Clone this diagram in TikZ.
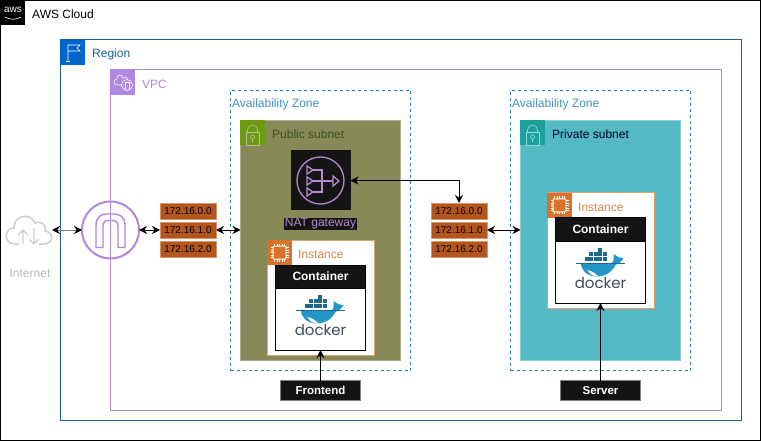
\documentclass[tikz,border=0pt]{standalone}
\usepackage{fontspec}
\setmainfont{Liberation Sans}
\newfontfamily\dockerfont{Poppins}
\usetikzlibrary{arrows.meta}

\definecolor{regionblue}{RGB}{28,95,150}
\definecolor{regionicon}{RGB}{0,102,204}
\definecolor{vpcpurple}{RGB}{176,136,224}
\definecolor{azblue}{RGB}{30,125,180}
\definecolor{pubfill}{RGB}{135,137,88}
\definecolor{pubicon}{RGB}{108,154,16}
\definecolor{pubtext}{RGB}{58,82,32}
\definecolor{privfill}{RGB}{84,185,194}
\definecolor{privicon}{RGB}{28,160,160}
\definecolor{instborder}{RGB}{226,160,112}
\definecolor{insticon}{RGB}{217,115,43}
\definecolor{insttext}{RGB}{217,131,75}
\definecolor{ipfill}{RGB}{179,86,30}
\definecolor{ipborder}{RGB}{214,150,105}
\definecolor{natlilac}{RGB}{180,138,208}
\definecolor{blackbox}{RGB}{20,20,20}
\definecolor{cloudgray}{RGB}{200,205,216}
\definecolor{whaleblue}{RGB}{36,150,200}
\definecolor{whaledark}{RGB}{30,105,140}

\tikzset{
  txt/.style={font=\fontsize{12}{14}\selectfont, inner sep=0pt, anchor=west},
  groupbox/.style={draw, inner sep=0pt, outer sep=0pt, line width=1pt},
  tagbox/.style={inner sep=0pt, outer sep=0pt, minimum size=25pt},
  ipbox/.style={draw=ipborder, fill=ipfill, inner sep=0pt, outer sep=0pt, minimum width=56pt, minimum height=16pt, line width=0.8pt, font=\fontsize{10}{12}\selectfont},
  labelbox/.style={draw=gray, fill=blackbox, text=white, inner sep=0pt, outer sep=0pt, minimum width=80pt, minimum height=20pt, line width=0.8pt, font=\fontsize{11.5}{14}\selectfont\bfseries},
  headbox/.style={draw=black, fill=blackbox, text=white, inner sep=0pt, outer sep=0pt, minimum width=90pt, minimum height=23pt, line width=1pt, font=\fontsize{12}{15}\selectfont\bfseries},
  link/.style={line width=1pt, {Stealth[length=8pt,width=8pt,black]}-{Stealth[length=8pt,width=8pt,black]}},
  oneway/.style={line width=1pt, -{Stealth[length=8pt,width=8pt]}},
  lockicon/.pic={
    \draw[line width=0.6pt] (-6.5,-2) rectangle (6.5,11);
    \draw[line width=0.6pt] (-5,-2) -- (-5,-4) arc[start angle=180, end angle=360, radius=5] -- (5,-2);
    \draw[line width=0.6pt] (0,3) circle (2);
    \draw[line width=0.6pt] (0,5) -- (0,8);
  },
  chipicon/.pic={
    \draw[white, line width=1pt, rounded corners=1pt] (-6.5,-6.5) rectangle (6.5,6.5);
    \foreach \t in {-5,-2.5,0,2.5,5} {
      \draw[white, line width=0.5pt] (\t,-9) -- (\t,-6.5);
      \draw[white, line width=0.5pt] (\t,6.5) -- (\t,9);
      \draw[white, line width=0.5pt] (-9,\t) -- (-6.5,\t);
      \draw[white, line width=0.5pt] (6.5,\t) -- (9,\t);
    }
  },
  dockerlogo/.pic={
    % blocks on the deck
    \foreach \bx/\by in {-16/-4.5,-11.5/-4.5,-7/-4.5,-2.5/-4.5,2/-4.5,-11.5/-9,-7/-9,-2.5/-9,2/-9,-2.5/-13.5}
      \fill[whaledark] (\bx,\by) rectangle ++(4.2,4.2);
    % body
    \fill[whaleblue] (-20,2) -- (9,2) .. controls (12,3) and (14,1) .. (13,-7) .. controls (16,-5) and (18,-3) .. (23,-3) .. controls (21,1) and (18,3) .. (15,4) .. controls (11,12) and (3,16) .. (-5,15.5) .. controls (-14,15) and (-19,9) .. (-20,2) -- cycle;
    \fill[white] (-13,9) .. controls (-9,10) and (-5,12) .. (-2,15.5) .. controls (-8,15.5) and (-11,13) .. (-13,9) -- cycle;
    \draw[whaledark, line width=0.6pt] (-25,2) -- (24,2);
    \node[font=\dockerfont\fontsize{15}{17}\selectfont, text={rgb,255:red,62;green,78;blue,90}, inner sep=0pt] (-dockertxt) at (0,22) {docker};
  },
}

\begin{document}
\begin{tikzpicture}[x=1pt, y=-1pt]
  \useasboundingbox (0,0) rectangle (761,441);
  \fill[white] (0,0) rectangle (761,441);

  % AWS Cloud
  \draw[black, line width=1pt] (0.5,0.5) rectangle (760.5,440.5);
  \node[tagbox, fill=black] (awstag) at (12.5,12.5) {};
  \node[white, font=\fontsize{10}{10}\selectfont, inner sep=0pt] (awslogo) at (13,10) {aws};
  \draw[white, line width=0.6pt] (5,17) .. controls (10,20) and (16,20) .. (21,17);
  \node[txt] (awslabel) at (32,14) {AWS Cloud};

  % Region
  \node[groupbox, draw=regionblue, minimum width=681pt, minimum height=380pt] (region) at (400.5,230) {};
  \node[tagbox, fill=regionicon] (regiontag) at (72.5,52.5) {};
  \draw[white, line width=0.6pt] (68,61) -- (68,45) -- (80,45) -- (77,48) -- (80,51) -- (68,51);
  \draw[white, line width=0.6pt] (66,61) -- (70,61);
  \node[txt, text=regionblue] (regionlabel) at (92,54) {Region};

  % VPC
  \node[groupbox, draw=vpcpurple, minimum width=611pt, minimum height=340pt] (vpc) at (415.5,240) {};
  \node[tagbox, fill=vpcpurple] (vpctag) at (122.5,82.5) {};
  \draw[white, line width=0.6pt] (128,80) .. controls (127,77) and (125,77) .. (123,78) .. controls (122,74) and (117,74) .. (117,79) .. controls (113,79) and (113,85) .. (117,85) -- (122,85);
  \draw[white, line width=0.6pt] (127,85) circle (5.5);
  \draw[white, line width=0.5pt] (125,89) -- (125,82) -- (129,82) -- (129,89);
  \node[txt, text=vpcpurple] (vpclabel) at (142,84) {VPC};

  % Availability zones
  \node[groupbox, draw=azblue, dashed, line width=0.7pt, minimum width=180pt, minimum height=280pt] (azpub) at (320.5,230.5) {};
  \node[txt, text=azblue!85] (azpublabel) at (232,104.5) {Availability Zone};
  \node[groupbox, draw=azblue, dashed, line width=0.7pt, minimum width=180pt, minimum height=280pt] (azpriv) at (600.5,230.5) {};
  \node[txt, text=azblue!85] (azprivlabel) at (512,104.5) {Availability Zone};

  % Public subnet
  \node[groupbox, draw=pubfill!70!white, fill=pubfill, minimum width=160pt, minimum height=240pt] (pubsub) at (320.5,240.5) {};
  \node[tagbox, fill=pubicon] (pubtag) at (252.5,132.5) {};
  \draw pic[pubfill!60!white] at (252.5,134) {lockicon};
  \node[txt, text=pubtext] (publabel) at (272,134) {Public subnet};

  % Private subnet
  \node[groupbox, draw=privfill!70!white, fill=privfill, minimum width=160pt, minimum height=240pt] (privsub) at (600.5,240.5) {};
  \node[tagbox, fill=privicon] (privtag) at (532.5,132.5) {};
  \draw pic[privfill!60!white] at (532.5,134) {lockicon};
  \node[txt, text=black!85!blue] (privlabel) at (552,134) {Private subnet};

  % NAT gateway
  \node[fill=blackbox, inner sep=0pt, outer sep=0pt, minimum size=60pt] (natgw) at (320.5,180.5) {};
  \begin{scope}[natlilac, line width=1.3pt]
    \draw (320.5,180.5) circle (23.5);
    \draw (307,166) -- (313,170) -- (307,174) -- cycle;
    \draw (307,177) -- (313,181) -- (307,185) -- cycle;
    \draw (307,188) -- (313,192) -- (307,196) -- cycle;
    \draw (313,170) -- (322,170) -- (322,192) -- (313,192);
    \draw (313,181) -- (333,181);
    \draw (333,176) -- (339,181) -- (333,186) -- cycle;
  \end{scope}
  \node[fill=blackbox, text=natlilac, inner sep=1pt, font=\fontsize{12}{13}\selectfont] (natlabel) at (320.5,224) {NAT gateway};

  % Instance in the public subnet
  \node[groupbox, draw=instborder, fill=white, minimum width=107pt, minimum height=115pt] (instpub) at (320.5,297.5) {};
  \node[tagbox, fill=insticon] (instpubtag) at (279.5,252.5) {};
  \draw pic at (279.5,252.5) {chipicon};
  \node[txt, text=insttext] (instpublabel) at (298,254.5) {Instance};
  \node[draw=black, fill=white, line width=1pt, inner sep=0pt, outer sep=0pt, minimum width=90pt, minimum height=85pt] (contpub) at (320.5,307.5) {};
  \node[headbox] (contpubhead) at (320.5,276.5) {Container};
  \draw pic (dockerpub) at (320.5,308) {dockerlogo};

  % Instance in the private subnet
  \node[groupbox, draw=instborder, fill=white, minimum width=107pt, minimum height=115pt] (instpriv) at (600.5,250.5) {};
  \node[tagbox, fill=insticon] (instprivtag) at (559.5,205.5) {};
  \draw pic at (559.5,205.5) {chipicon};
  \node[txt, text=insttext] (instprivlabel) at (578,207.5) {Instance};
  \node[draw=black, fill=white, line width=1pt, inner sep=0pt, outer sep=0pt, minimum width=90pt, minimum height=85pt] (contpriv) at (600.5,260.5) {};
  \node[headbox] (contprivhead) at (600.5,229.5) {Container};
  \draw pic (dockerpriv) at (600.5,261) {dockerlogo};

  % Internet
  \draw[cloudgray, line width=1.5pt, line join=round] (19,244) -- (15,244) .. controls (3,244) and (4,228) .. (14,228) .. controls (14,214) and (31,213) .. (35,223) .. controls (42,220) and (47,226) .. (45,231) .. controls (54,232) and (54,244) .. (44,244) -- (39,244);
  \draw[cloudgray, line width=1.3pt] (23,244) -- (23,230) (18,235) -- (23,230) -- (28,235);
  \draw[cloudgray, line width=1.3pt] (34,228) -- (34,244) (29,239) -- (34,244) -- (39,239);
  \coordinate (cloudedge) at (52,230);
  \node[text=cloudgray!90!black, font=\fontsize{12}{14}\selectfont, inner sep=0pt] (netlabel) at (30,273) {Internet};

  % Internet gateway
  \node[draw=vpcpurple, line width=2pt, circle, inner sep=0pt, outer sep=0pt, minimum size=57pt] (igw) at (110.5,230) {};
  \draw[vpcpurple, line width=1.4pt, line join=round] (96,247.5) -- (96,225) .. controls (96,217) and (101,214) .. (107,214) -- (114,214) .. controls (120,214) and (125,217) .. (125,225) -- (125,247.5) -- (118,247.5) -- (118,226) .. controls (118,222) and (116,220.5) .. (112,220.5) -- (109,220.5) .. controls (105,220.5) and (103,222) .. (103,226) -- (103,247.5) -- cycle;

  % Route tables
  \node[ipbox] (ipa1) at (188,211) {172.16.0.0};
  \node[ipbox] (ipa2) at (188,230) {172.16.1.0};
  \node[ipbox] (ipa3) at (188,249) {172.16.2.0};
  \node[ipbox] (ipb1) at (459,211) {172.16.0.0};
  \node[ipbox] (ipb2) at (459,230) {172.16.1.0};
  \node[ipbox] (ipb3) at (459,249) {172.16.2.0};

  % Tags under the zones
  \node[labelbox] (frontend) at (320.5,390.5) {Frontend};
  \node[labelbox] (server) at (600.5,390.5) {Server};

  % Connections
  \draw[link, gray] (cloudedge) -- (igw.west);
  \draw[link, black] (igw.east) -- (ipa2.west);
  \draw[link, black] (ipa2.east) -- (ipa2.east -| pubsub.west);
  \draw[link, black] (natgw.east) -| (ipb1.north);
  \draw[link, black] (ipb2.east) -- (ipb2.east -| privsub.west);
  \draw[oneway, black] (frontend.north) -- (contpub.south);
  \draw[oneway, black] (server.north) -- (contpriv.south);
\end{tikzpicture}
\end{document}
